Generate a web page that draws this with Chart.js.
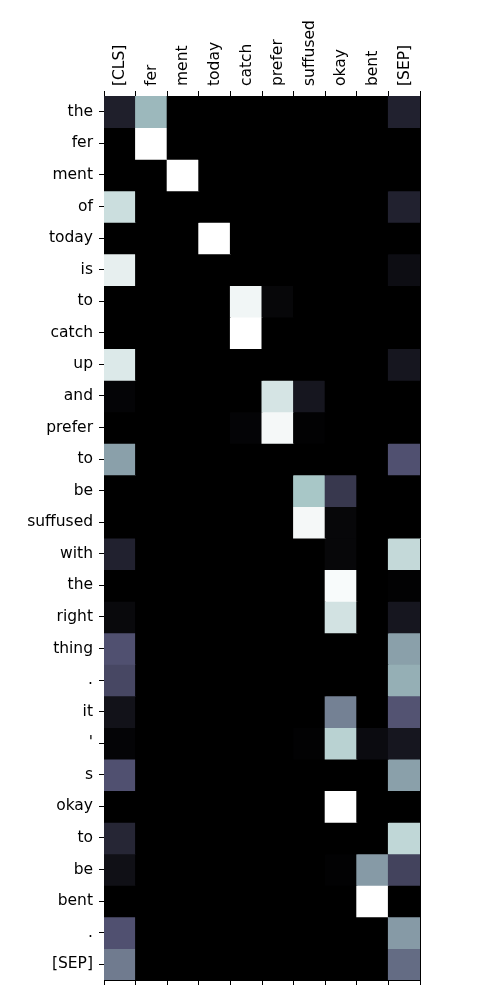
<!DOCTYPE html>
<html>
<head>
<meta charset="utf-8">
<script src="https://cdn.jsdelivr.net/npm/chart.js@4"></script>
<style>
  html, body { margin: 0; padding: 0; background: #fff; }
  #wrap { width: 500px; height: 1000px; }
</style>
</head>
<body>
<div id="wrap"><canvas id="attn"></canvas></div>
<script>
const colLabels = ['[CLS]', 'fer', 'ment', 'today', 'catch', 'prefer', 'suffused', 'okay', 'bent', '[SEP]'];
const rowLabels = ['the', 'fer', 'ment', 'of', 'today', 'is', 'to', 'catch', 'up', 'and', 'prefer', 'to', 'be',
    'suffused', 'with', 'the', 'right', 'thing', '.', 'it', "'", 's', 'okay', 'to', 'be', 'bent', '.', '[SEP]'];

// attention weights, one row per token (columns as colLabels)
const weights = [
    [0.14, 0.70, 0, 0, 0, 0, 0, 0, 0, 0.15],
    [0, 1.00, 0, 0, 0, 0, 0, 0, 0, 0],
    [0, 0, 1.00, 0, 0, 0, 0, 0, 0, 0],
    [0.85, 0, 0, 0, 0, 0, 0, 0, 0, 0.15],
    [0, 0, 0, 1.00, 0, 0, 0, 0, 0, 0],
    [0.93, 0, 0, 0, 0, 0, 0, 0, 0, 0.06],
    [0, 0, 0, 0, 0.96, 0.03, 0, 0, 0, 0],
    [0, 0, 0, 0, 1.00, 0, 0, 0, 0, 0],
    [0.90, 0, 0, 0, 0, 0, 0, 0, 0, 0.10],
    [0.02, 0, 0, 0, 0, 0.88, 0.10, 0, 0, 0],
    [0, 0, 0, 0, 0.02, 0.97, 0.01, 0, 0, 0],
    [0.62, 0, 0, 0, 0, 0, 0, 0, 0, 0.36],
    [0, 0, 0, 0, 0, 0, 0.75, 0.25, 0, 0],
    [0, 0, 0, 0, 0, 0, 0.97, 0.03, 0, 0],
    [0.15, 0, 0, 0, 0, 0, 0, 0.03, 0, 0.83],
    [0, 0, 0, 0, 0, 0, 0, 0.98, 0, 0.01],
    [0.04, 0, 0, 0, 0, 0, 0, 0.87, 0, 0.10],
    [0.36, 0, 0, 0, 0, 0, 0, 0, 0, 0.62],
    [0.32, 0, 0, 0, 0, 0, 0, 0, 0, 0.67],
    [0.08, 0, 0, 0, 0, 0, 0, 0.52, 0, 0.37],
    [0.02, 0, 0, 0, 0, 0, 0.01, 0.80, 0.05, 0.10],
    [0.36, 0, 0, 0, 0, 0, 0, 0, 0, 0.62],
    [0, 0, 0, 0, 0, 0, 0, 1.00, 0, 0],
    [0.17, 0, 0, 0, 0, 0, 0, 0, 0, 0.82],
    [0.07, 0, 0, 0, 0, 0, 0, 0.01, 0.60, 0.30],
    [0, 0, 0, 0, 0, 0, 0, 0, 1.00, 0],
    [0.36, 0, 0, 0, 0, 0, 0, 0, 0, 0.60],
    [0.50, 0, 0, 0, 0, 0, 0, 0, 0, 0.45]
];

// matplotlib 'bone' colormap
function interp(points, v) {
    for (let i = 1; i < points.length; i++) {
        if (v <= points[i][0]) {
            const [x0, y0] = points[i - 1];
            const [x1, y1] = points[i];
            return y0 + (v - x0) / (x1 - x0) * (y1 - y0);
        }
    }
    return points[points.length - 1][1];
}
function bone(v) {
    v = Math.max(0, Math.min(1, v));
    const r = interp([[0, 0], [0.746032, 0.652778], [1, 1]], v);
    const g = interp([[0, 0], [0.365079, 0.319444], [0.746032, 0.777778], [1, 1]], v);
    const b = interp([[0, 0], [0.365079, 0.444444], [1, 1]], v);
    return 'rgb(' + Math.round(r * 255) + ',' + Math.round(g * 255) + ',' + Math.round(b * 255) + ')';
}

const datasets = weights.map(function (row, r) {
    return {
        label: rowLabels[r],
        data: row.map(function () { return [r, r + 1]; }),
        backgroundColor: row.map(bone),
        borderWidth: 0,
        inflateAmount: 0.5,
        barPercentage: 1,
        categoryPercentage: 1,
        grouped: false
    };
});

// black under the cells so antialiased seams don't show
const areaFill = {
    id: 'areaFill',
    beforeDatasetsDraw: function (chart) {
        const a = chart.chartArea;
        chart.ctx.save();
        chart.ctx.fillStyle = '#000';
        chart.ctx.fillRect(a.left, a.top, a.right - a.left, a.bottom - a.top);
        chart.ctx.restore();
    }
};

const font = { family: 'DejaVu Sans', size: 15.5 };
const tickGrid = { drawOnChartArea: false, tickLength: 5, color: '#000', tickColor: '#000' };

new Chart(document.getElementById('attn'), {
    type: 'bar',
    data: { labels: colLabels, datasets: datasets },
    plugins: [areaFill],
    options: {
        responsive: true,
        maintainAspectRatio: false,
        animation: false,
        layout: { padding: 0 },
        plugins: { legend: { display: false }, tooltip: { enabled: false } },
        scales: {
            x: {
                position: 'top',
                grid: tickGrid,
                border: { color: '#000', width: 1 },
                ticks: { color: '#000', font: font, minRotation: 90, maxRotation: 90, padding: 5, labelOffset: 19, autoSkip: false },
                afterFit: function (s) { s.height = 96; }
            },
            x2: {
                type: 'category',
                labels: colLabels,
                position: 'bottom',
                offset: true,
                grid: tickGrid,
                border: { color: '#000', width: 1 },
                ticks: { callback: function () { return ''; }, autoSkip: false },
                afterFit: function (s) { s.height = 20; }
            },
            y: {
                type: 'linear',
                min: 0,
                max: rowLabels.length,
                reverse: true,
                grid: tickGrid,
                border: { color: '#000', width: 1 },
                afterBuildTicks: function (s) {
                    s.ticks = rowLabels.map(function (_, i) { return { value: i + 0.5 }; });
                },
                ticks: {
                    color: '#000', font: font, padding: 6, autoSkip: false,
                    callback: function (v) { return rowLabels[Math.floor(v)]; }
                },
                afterFit: function (s) { s.width = 104; }
            },
            y2: {
                type: 'linear',
                position: 'right',
                min: 0,
                max: rowLabels.length,
                grid: { drawOnChartArea: false, drawTicks: false },
                border: { color: '#000', width: 1 },
                ticks: { display: false },
                afterFit: function (s) { s.width = 80; }
            }
        }
    }
});
</script>
</body>
</html>
